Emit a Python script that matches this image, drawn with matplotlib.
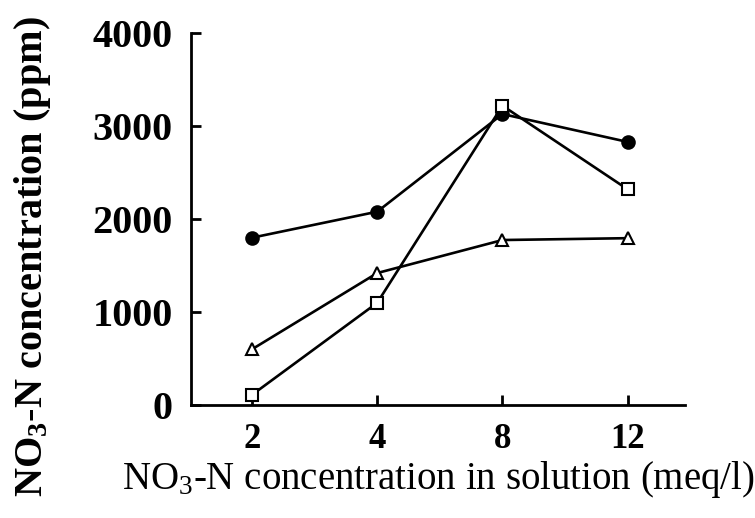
import matplotlib.pyplot as plt

plt.rcParams['font.family'] = ['Liberation Serif', 'DejaVu Serif']
plt.rcParams['mathtext.default'] = 'regular'

# solution concentrations (meq/l), plotted at equal spacing
x_labels = ['2', '4', '8', '12']
filled_circle = [1800, 2080, 3130, 2830]
open_square = [110, 1100, 3220, 2320]
open_triangle = [600, 1420, 1775, 1795]


def main():
    fig = plt.figure(figsize=(7.55, 5.18), dpi=100)
    ax = fig.add_axes([0.253, 0.218, 0.654, 0.718])
    pos = range(len(x_labels))

    line_kw = dict(color='black', linewidth=1.9, markersize=9, markeredgewidth=1.5)
    ax.plot(pos, filled_circle, marker='o', markerfacecolor='black', **line_kw)
    ax.plot(pos, open_square, marker='s', markerfacecolor='white', **line_kw)
    ax.plot(pos, open_triangle, marker='^', markerfacecolor='white', **line_kw)

    ax.set_xlim(-0.487, 3.456)
    ax.set_ylim(0, 4000)
    ax.set_xticks(list(pos))
    ax.set_xticklabels(x_labels)
    ax.set_yticks([0, 1000, 2000, 3000, 4000])

    for side in ['top', 'right']:
        ax.spines[side].set_visible(False)
    for side in ['left', 'bottom']:
        ax.spines[side].set_linewidth(2)

    ax.tick_params(direction='in', length=7, width=2)
    ax.tick_params(axis='y', labelsize=29, pad=13)
    ax.tick_params(axis='x', labelsize=25, pad=13)
    for lab in ax.get_xticklabels() + ax.get_yticklabels():
        lab.set_fontweight('bold')

    ax.set_ylabel('NO$_3$-N concentration (ppm)', fontsize=29, fontweight='bold')
    ax.yaxis.set_label_coords(-0.28, 0.40)
    ax.set_xlabel('NO$_3$-N concentration in solution (meq/l)', fontsize=28)
    ax.xaxis.set_label_coords(0.5, -0.145)

    fig.savefig('out.png', dpi=100)


if __name__ == '__main__':
    main()
